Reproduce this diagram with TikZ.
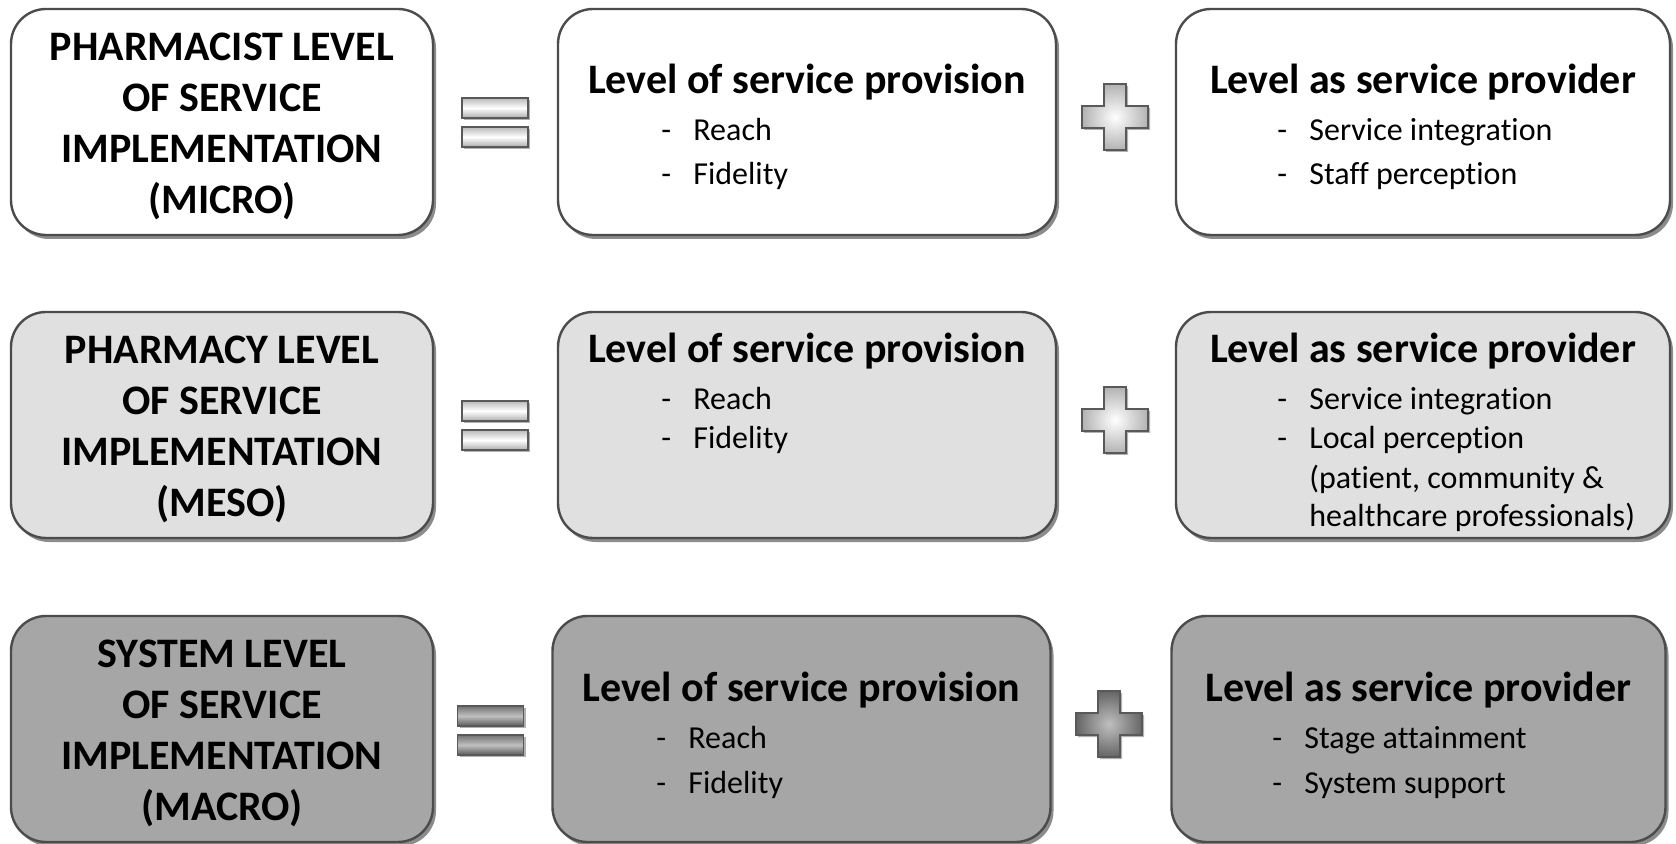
\documentclass[tikz,border=0pt]{standalone}
\usepackage{fontspec}
\setmainfont{Carlito}[Ligatures=NoCommon]
\usetikzlibrary{positioning,shadows}
\newcommand{\itemdash}{\makebox[16pt][l]{-}}

\begin{document}
\begin{tikzpicture}[x=0.5pt,y=-0.5pt,
  levelbox/.style={draw=black!70, line width=1.2pt, rounded corners=17.5pt,
    minimum width=#1, minimum height=113pt, inner sep=0pt,
    drop shadow={shadow xshift=1.5pt,shadow yshift=-2pt,opacity=0.45,fill=black}},
  title/.style={font=\fontsize{21}{25.5}\selectfont\bfseries, align=center},
  head/.style={font=\fontsize{21}{25}\selectfont\bfseries, anchor=base},
  entry/.style={font=\fontsize{16}{19}\selectfont, anchor=base west, inner sep=0pt},
  eqlight/.style={draw=black!65, line width=0.6pt, minimum width=33pt, minimum height=10pt,
    inner sep=0pt, top color=gray!55, bottom color=gray!65, middle color=white,
    drop shadow={shadow xshift=1pt,shadow yshift=-1pt,opacity=0.3,fill=black}},
  eqdark/.style={eqlight, top color=black!55, bottom color=black!65, middle color=black!25},
  pluslight/.style={draw=black!65, line width=0.6pt, inner color=white, outer color=gray!60,
    drop shadow={shadow xshift=1pt,shadow yshift=-1pt,opacity=0.3,fill=black}},
  plusdark/.style={pluslight, inner color=black!25, outer color=black!60}]

\useasboundingbox (0,0) rectangle (1676,844);
\fill[white] (0,0) rectangle (1676,844);

% Micro row (pharmacist)
\node[levelbox=211pt, fill=white] (micro) at (222,122) {};
\node[levelbox=249pt, fill=white] (microprov) at (807,122) {};
\node[levelbox=247pt, fill=white] (microprovider) at (1423,122) {};
\node[title] (microtitle) at (222,126)
  {PHARMACIST LEVEL\\OF SERVICE\\IMPLEMENTATION\\(MICRO)};
\node[head] (microprovhead) at (807,94) {Level of service provision};
\node[entry] (microreach) at (661,141) {\itemdash Reach};
\node[entry] (microfid) at (661,185) {\itemdash Fidelity};
\node[head] (microproviderhead) at (1423,94) {Level as service provider};
\node[entry] (microinteg) at (1277,141) {\itemdash Service integration};
\node[entry] (microstaff) at (1277,185) {\itemdash Staff perception};

% Meso row (pharmacy)
\node[levelbox=211pt, fill=black!12] (meso) at (222,425) {};
\node[levelbox=249pt, fill=black!12] (mesoprov) at (807,425) {};
\node[levelbox=247pt, fill=black!12] (mesoprovider) at (1423,425) {};
\node[title] (mesotitle) at (222,429)
  {PHARMACY LEVEL\\OF SERVICE\\IMPLEMENTATION\\(MESO)};
\node[head] (mesoprovhead) at (807,363) {Level of service provision};
\node[entry] (mesoreach) at (661,410) {\itemdash Reach};
\node[entry] (mesofid) at (661,449) {\itemdash Fidelity};
\node[head] (mesoproviderhead) at (1423,363) {Level as service provider};
\node[entry] (mesointeg) at (1277,410) {\itemdash Service integration};
\node[entry] (mesolocal) at (1277,449) {\itemdash Local perception};
\node[entry] (mesolocalb) at (1309,488) {(patient, community \&};
\node[entry] (mesolocalc) at (1309,526) {healthcare professionals)};

% Macro row (system)
\node[levelbox=211pt, fill=black!35] (macro) at (222,729) {};
\node[levelbox=249pt, fill=black!35] (macroprov) at (801.5,729) {};
\node[levelbox=247pt, fill=black!35] (macroprovider) at (1418.5,729) {};
\node[title] (macrotitle) at (222,733)
  {SYSTEM LEVEL\\OF SERVICE\\IMPLEMENTATION\\(MACRO)};
\node[head] (macroprovhead) at (801.5,701) {Level of service provision};
\node[entry] (macroreach) at (656,748) {\itemdash Reach};
\node[entry] (macrofid) at (656,793) {\itemdash Fidelity};
\node[head] (macroproviderhead) at (1418.5,701) {Level as service provider};
\node[entry] (macrostage) at (1272,748) {\itemdash Stage attainment};
\node[entry] (macrosupport) at (1272,793) {\itemdash System support};

% Equals signs
\node[eqlight] (microeqa) at (495,108) {};
\node[eqlight] (microeqb) at (495,137) {};
\node[eqlight] (mesoeqa) at (495,411) {};
\node[eqlight] (mesoeqb) at (495,440) {};
\node[eqdark] (macroeqa) at (490.5,716) {};
\node[eqdark] (macroeqb) at (490.5,745) {};

% Plus signs
\foreach \cx/\cy/\look in {1115/117/pluslight, 1115/420/pluslight, 1109/724/plusdark}
  \draw[\look] (\cx-11,\cy-33) -- ++(22,0) -- ++(0,22) -- ++(22,0) -- ++(0,22)
    -- ++(-22,0) -- ++(0,22) -- ++(-22,0) -- ++(0,-22) -- ++(-22,0) -- ++(0,-22)
    -- ++(22,0) -- cycle;
\end{tikzpicture}
\end{document}
